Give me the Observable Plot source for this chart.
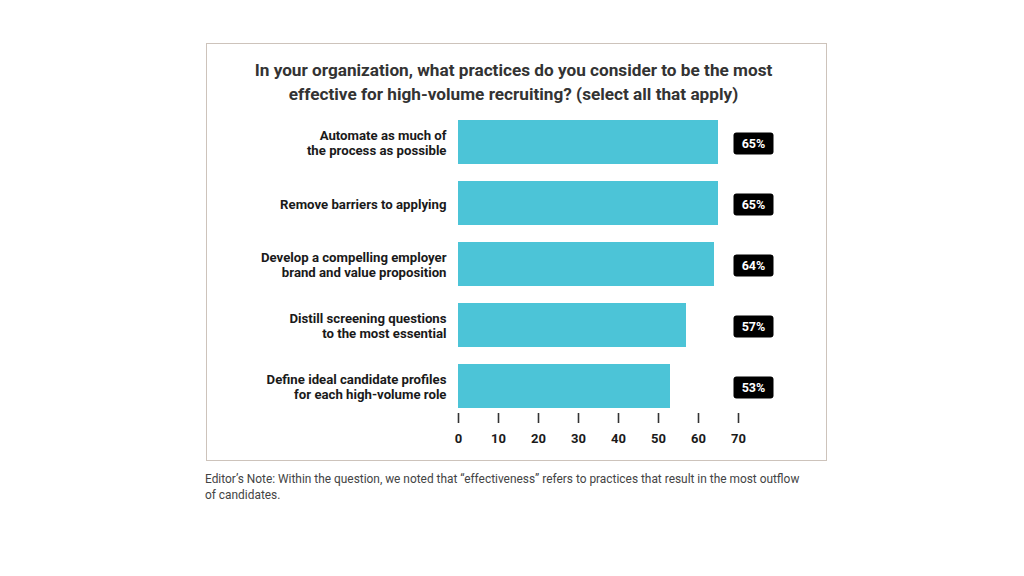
<!DOCTYPE html>
<html>
<head>
<meta charset="utf-8">
<script src="https://cdn.jsdelivr.net/npm/d3@7"></script>
<script src="https://cdn.jsdelivr.net/npm/@observablehq/plot@0.6"></script>
<style>
  html, body { margin: 0; padding: 0; background: #fff; width: 1024px; height: 576px; overflow: hidden; font-family: Roboto, "Noto Sans", sans-serif; }
  #frame { position: absolute; left: 206px; top: 43px; width: 619px; height: 416px; border: 1px solid #cdc3bb; }
  #title { position: absolute; left: 203px; top: 58px; width: 621px; text-align: center; font-size: 17.2px; font-weight: 700; color: #333; line-height: 24px; }
  #chart { position: absolute; left: 0; top: 0; }
  #note { position: absolute; left: 205px; top: 471px; width: 660px; font-size: 11.9px; color: #444; line-height: 16px; }
</style>
</head>
<body>
<div id="frame"></div>
<div id="title">In your organization, what practices do you consider to be the most<br>effective for high-volume recruiting? (select all that apply)</div>
<div id="chart"></div>
<div id="note">Editor’s Note: Within the question, we noted that “effectiveness” refers to practices that result in the most outflow<br>of candidates.</div>
<script>
const categories = [
  "Automate as much of\nthe process as possible",
  "Remove barriers to applying",
  "Develop a compelling employer\nbrand and value proposition",
  "Distill screening questions\nto the most essential",
  "Define ideal candidate profiles\nfor each high-volume role"
];
const values = [65, 65, 64, 57, 53];
const valueLabels = ["65%", "65%", "64%", "57%", "53%"];
const xTicks = [0, 10, 20, 30, 40, 50, 60, 70];

const data = categories.map((c, i) => ({category: c, value: values[i], label: valueLabels[i]}));

const W = 40, H = 22, R = 3;
const roundRect = {
  draw(ctx) {
    const x0 = -W / 2, y0 = -H / 2, x1 = W / 2, y1 = H / 2;
    ctx.moveTo(x0 + R, y0);
    ctx.lineTo(x1 - R, y0);
    ctx.arcTo(x1, y0, x1, y0 + R, R);
    ctx.lineTo(x1, y1 - R);
    ctx.arcTo(x1, y1, x1 - R, y1, R);
    ctx.lineTo(x0 + R, y1);
    ctx.arcTo(x0, y1, x0, y1 - R, R);
    ctx.lineTo(x0, y0 + R);
    ctx.arcTo(x0, y0, x0 + R, y0, R);
    ctx.closePath();
  }
};

const chart = Plot.plot({
  width: 1024,
  height: 576,
  marginLeft: 458,
  marginRight: 286,
  marginTop: 115,
  marginBottom: 163,
  style: {fontFamily: "Roboto, 'Noto Sans', sans-serif", background: "transparent", overflow: "visible"},
  x: {domain: [0, 70], ticks: xTicks, label: null},
  y: {domain: categories, paddingInner: 0.28, paddingOuter: 0.08, axis: null},
  marks: [
    Plot.barX(data, {x: "value", y: "category", fill: "#4cc4d7"}),
    Plot.text(data, {
      x: 0, y: "category", text: "category", dx: -12, textAnchor: "end",
      fontSize: 13.2, fontWeight: "bold", fill: "#1a1a1a", lineHeight: 1.2
    }),
    Plot.dot(data, {
      y: "category", frameAnchor: "right", dx: 15, dy: 1, symbol: roundRect, r: 5,
      fill: "#000", stroke: null
    }),
    Plot.text(data, {
      y: "category", frameAnchor: "right", dx: 15, dy: 1, text: "label", textAnchor: "middle",
      fill: "#fff", fontSize: 12.5, fontWeight: "bold"
    }),
    Plot.axisX({
      ticks: xTicks, tickSize: 10, tickPadding: 10, stroke: "#333", strokeWidth: 1.6,
      fontSize: 13, fontWeight: "bold", fill: "#1a1a1a", label: null
    })
  ]
});
document.getElementById("chart").appendChild(chart);
</script>
</body>
</html>
